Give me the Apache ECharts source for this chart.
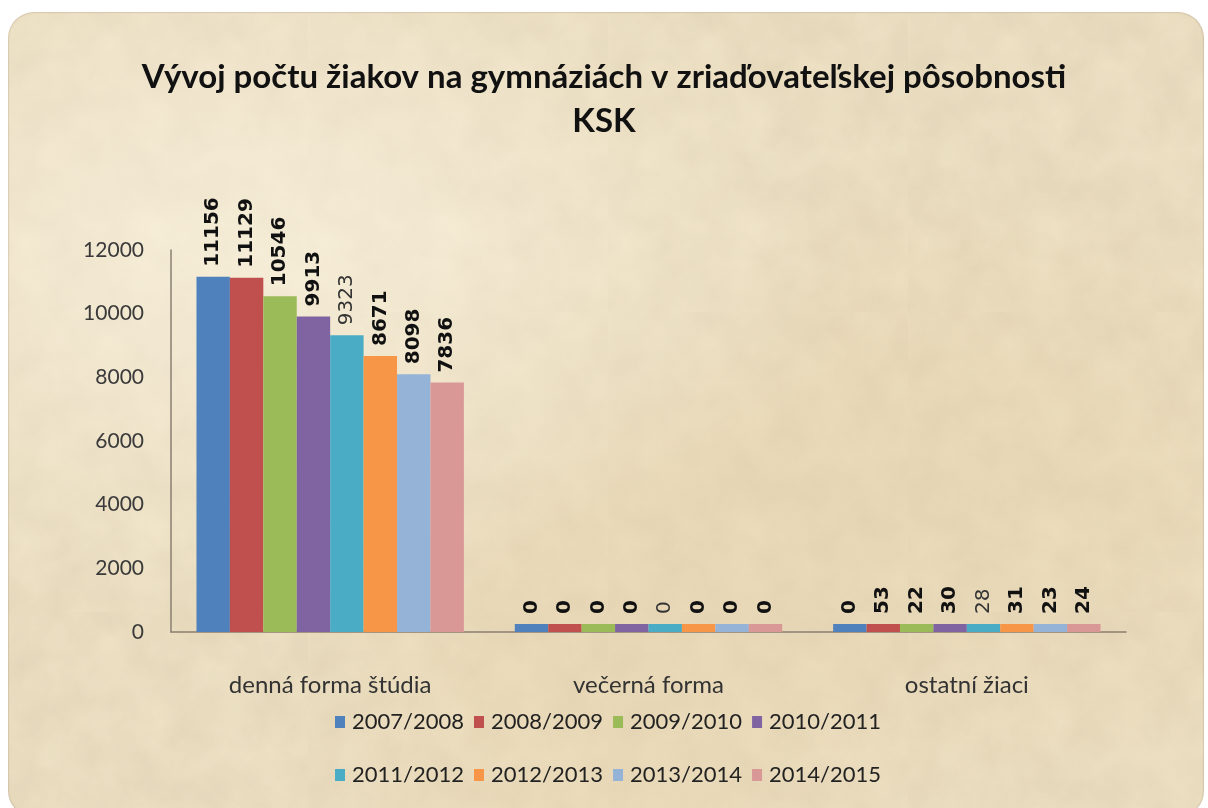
<!DOCTYPE html>
<html>
<head>
<meta charset="utf-8">
<script src="https://cdn.jsdelivr.net/npm/echarts@6/dist/echarts.min.js"></script>
<style>
html, body { margin: 0; padding: 0; background: #ffffff; }
#paper {
    position: absolute; left: 8px; top: 12px; width: 1196px; height: 805px;
    border-radius: 26px;
    background-color: #f0e3c6;
    background-image:
        radial-gradient(ellipse at 20% 30%, rgba(255,250,235,0.55), rgba(255,250,235,0) 45%),
        radial-gradient(ellipse at 75% 60%, rgba(225,205,165,0.4), rgba(225,205,165,0) 50%),
        radial-gradient(ellipse at 50% 90%, rgba(230,210,170,0.35), rgba(230,210,170,0) 40%),
        url("data:image/svg+xml;utf8,<svg xmlns='http://www.w3.org/2000/svg' width='300' height='300'><filter id='n'><feTurbulence type='fractalNoise' baseFrequency='0.025' numOctaves='4' seed='3'/><feColorMatrix values='0 0 0 0 0.55  0 0 0 0 0.45  0 0 0 0 0.3  0 0 0 0.3 0'/></filter><rect width='300' height='300' filter='url(%23n)'/></svg>");
    box-shadow: inset 0 0 2px rgba(120,100,70,0.6);
}
#chart { position: absolute; left: 0; top: 0; width: 1208px; height: 808px; }
</style>
</head>
<body>
<div id="paper"></div>
<div id="chart"></div>
<script>
// data
var categories = ['denná forma štúdia', 'večerná forma', 'ostatní žiaci'];
var seriesNames = ['2007/2008', '2008/2009', '2009/2010', '2010/2011', '2011/2012', '2012/2013', '2013/2014', '2014/2015'];
var v2007 = [11156, 0, 0];
var v2008 = [11129, 0, 53];
var v2009 = [10546, 0, 22];
var v2010 = [9913, 0, 30];
var v2011 = [9323, 0, 28];
var v2012 = [8671, 0, 31];
var v2013 = [8098, 0, 23];
var v2014 = [7836, 0, 24];
var yTicks = [0, 2000, 4000, 6000, 8000, 10000, 12000];

var seriesValues = [v2007, v2008, v2009, v2010, v2011, v2012, v2013, v2014];
var colors = ['#4f81bd', '#c0504d', '#9bbb59', '#8064a2', '#4bacc6', '#f79646', '#95b3d7', '#d99795'];

var chart = echarts.init(document.getElementById('chart'));

var series = seriesNames.map(function (name, i) {
    return {
        name: name,
        type: 'bar',
        data: seriesValues[i],
        barGap: '0%',
        barCategoryGap: '16%',
        barMinHeight: 8,
        itemStyle: { color: colors[i] },
        label: {
            show: true,
            position: 'top',
            rotate: 90,
            align: 'left',
            verticalAlign: 'middle',
            distance: 10,
            fontFamily: 'DejaVu Sans',
            fontSize: 20,
            fontWeight: i === 4 ? 'normal' : 'bold',
            color: i === 4 ? '#333' : '#111'
        }
    };
});

var legendStyle = {
    left: 330,
    itemWidth: 10,
    itemHeight: 12,
    itemGap: 10,
    icon: 'rect',
    textStyle: { fontFamily: 'Lato', fontSize: 22, color: '#222', padding: [0, 0, 0, 2] }
};

var option = {
    textStyle: { fontFamily: 'Lato' },
    title: {
        text: 'Vývoj počtu žiakov na gymnáziách v zriaďovateľskej pôsobnosti\nKSK',
        left: 'center',
        top: 50,
        textStyle: {
            fontFamily: 'Lato',
            fontSize: 33,
            fontWeight: 'bold',
            color: '#111',
            lineHeight: 44
        }
    },
    legend: [
        Object.assign({ data: seriesNames.slice(0, 4), top: 706 }, legendStyle),
        Object.assign({ data: seriesNames.slice(4), top: 759 }, legendStyle)
    ],
    grid: { left: 171, right: 82, top: 250, bottom: 176 },
    xAxis: {
        type: 'category',
        data: categories,
        axisLine: { lineStyle: { color: '#8a7f70', width: 1.5 } },
        axisTick: { show: false },
        axisLabel: { margin: 41, fontFamily: 'Lato', fontSize: 24, color: '#333' }
    },
    yAxis: {
        type: 'value',
        min: 0,
        max: 12000,
        interval: 2000,
        splitLine: { show: false },
        axisLine: { show: true, lineStyle: { color: '#8a7f70', width: 1.5 } },
        axisTick: { show: false },
        axisLabel: {
            margin: 27,
            fontFamily: 'Lato',
            fontSize: 21,
            color: '#3a3a3a',
            formatter: function (v) { return yTicks.indexOf(v) >= 0 ? String(v) : ''; }
        }
    },
    series: series
};

chart.setOption(option);
</script>
</body>
</html>
